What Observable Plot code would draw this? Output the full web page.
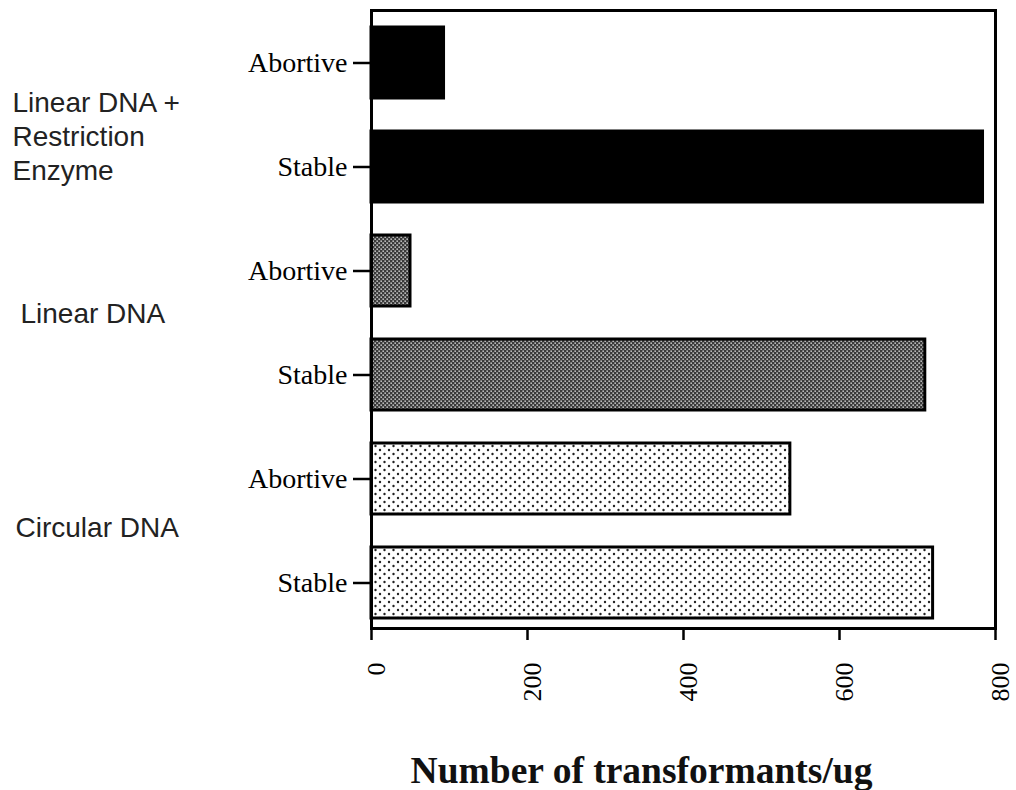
<!DOCTYPE html>
<html>
<head>
<meta charset="utf-8">
<script src="https://cdn.jsdelivr.net/npm/d3@7"></script>
<script src="https://cdn.jsdelivr.net/npm/@observablehq/plot@0.6"></script>
<style>
  html, body { margin: 0; padding: 0; background: #fff; }
  #chart svg { display: block; }
</style>
</head>
<body>
<div id="chart"></div>
<script>
// ---- data ----
const barIds    = ["reAbortive", "reStable", "linAbortive", "linStable", "circAbortive", "circStable"];
const barLabels = ["Abortive", "Stable", "Abortive", "Stable", "Abortive", "Stable"];
const barGroups = ["Linear DNA + Restriction Enzyme", "Linear DNA + Restriction Enzyme", "Linear DNA", "Linear DNA", "Circular DNA", "Circular DNA"];
const barValues = [93, 784, 50, 710, 537, 720];
const groupLabels = ["Linear DNA +\nRestriction\nEnzyme", "Linear DNA", "Circular DNA"];
const groupAnchors = ["reStable", "linStable", "circStable"];
const xTicks = [0, 200, 400, 600, 800];
const xTitle = "Number of transformants/ug";

const fills = {
  "Linear DNA + Restriction Enzyme": "#000",
  "Linear DNA": "url(#densePattern)",
  "Circular DNA": "url(#sparsePattern)"
};

const rows = barIds.map((id, i) => ({id, label: barLabels[i], group: barGroups[i], value: barValues[i], fill: fills[barGroups[i]]}));
const labelOf = Object.fromEntries(barIds.map((id, i) => [id, barLabels[i]]));
const groupRows = groupLabels.map((g, i) => ({text: g, anchor: groupAnchors[i]}));

const serif = "'Liberation Serif', 'Times New Roman', serif";
const sans = "'Liberation Sans', Arial, sans-serif";

const plot = Plot.plot({
  width: 1016,
  height: 790,
  marginLeft: 371,
  marginRight: 21,
  marginTop: 10,
  marginBottom: 162,
  style: {fontFamily: serif, background: "#fff", color: "#000"},
  x: {domain: [0, 800]},
  y: {domain: barIds, range: [10, 635], paddingInner: 0.32, paddingOuter: 0.16},
  color: {type: "identity"},
  marks: [
    Plot.barX(rows, {x: "value", y: "id", fill: "fill", stroke: "#000", strokeWidth: 3}),
    Plot.frame({stroke: "#000", strokeWidth: 3}),
    Plot.axisY({
      ticks: barIds, tickFormat: d => labelOf[d], tickSize: 18, tickPadding: 6,
      fontSize: 28, fontFamily: serif, strokeWidth: 2.5, label: null
    }),
    // x tick marks
    Plot.axisX({
      ticks: xTicks, tickSize: 12, tickFormat: () => "",
      strokeWidth: 2.5, label: null
    }),
    // x tick labels (rotated)
    Plot.axisX({
      ticks: xTicks, tickSize: 0, tickPadding: 34, tickRotate: -90, dx: 5,
      fontSize: 26, fontFamily: serif, label: null
    }),
    Plot.text(groupRows.filter((d, i) => i === 0), {
      text: "text", y: "anchor", frameAnchor: "left", dx: -359, dy: -32,
      textAnchor: "start", lineAnchor: "middle", lineHeight: 1.22,
      fontSize: 28, fontFamily: sans, fill: "#222"
    }),
    Plot.text(groupRows.filter((d, i) => i === 1), {
      text: "text", y: "anchor", frameAnchor: "left", dx: -351, dy: -61,
      textAnchor: "start", lineAnchor: "middle",
      fontSize: 28, fontFamily: sans, fill: "#222"
    }),
    Plot.text(groupRows.filter((d, i) => i === 2), {
      text: "text", y: "anchor", frameAnchor: "left", dx: -356, dy: -55,
      textAnchor: "start", lineAnchor: "middle",
      fontSize: 28, fontFamily: sans, fill: "#222"
    }),
    Plot.text([xTitle], {
      text: d => d, frameAnchor: "bottom", dx: -42, dy: 154,
      fontSize: 37.5, fontWeight: "bold", fontFamily: serif, fill: "#111"
    })
  ]
});

document.getElementById("chart").appendChild(plot);

// patterns used by the bar fills
const svg = d3.select(plot);
const defs = svg.insert("defs", ":first-child");
const dense = defs.append("pattern").attr("id", "densePattern")
  .attr("patternUnits", "userSpaceOnUse").attr("width", 4).attr("height", 4);
dense.append("rect").attr("width", 4).attr("height", 4).attr("fill", "#3a3a3a");
dense.append("rect").attr("x", 0.5).attr("y", 0.5).attr("width", 1.3).attr("height", 1.3).attr("fill", "#fff");
dense.append("rect").attr("x", 2.5).attr("y", 2.5).attr("width", 1.3).attr("height", 1.3).attr("fill", "#fff");

const sparse = defs.append("pattern").attr("id", "sparsePattern")
  .attr("patternUnits", "userSpaceOnUse").attr("width", 9).attr("height", 8);
sparse.append("rect").attr("width", 9).attr("height", 8).attr("fill", "#fff");
sparse.append("circle").attr("cx", 2).attr("cy", 2).attr("r", 1.2).attr("fill", "#222");
sparse.append("circle").attr("cx", 6.5).attr("cy", 6).attr("r", 1.2).attr("fill", "#222");
</script>
</body>
</html>
